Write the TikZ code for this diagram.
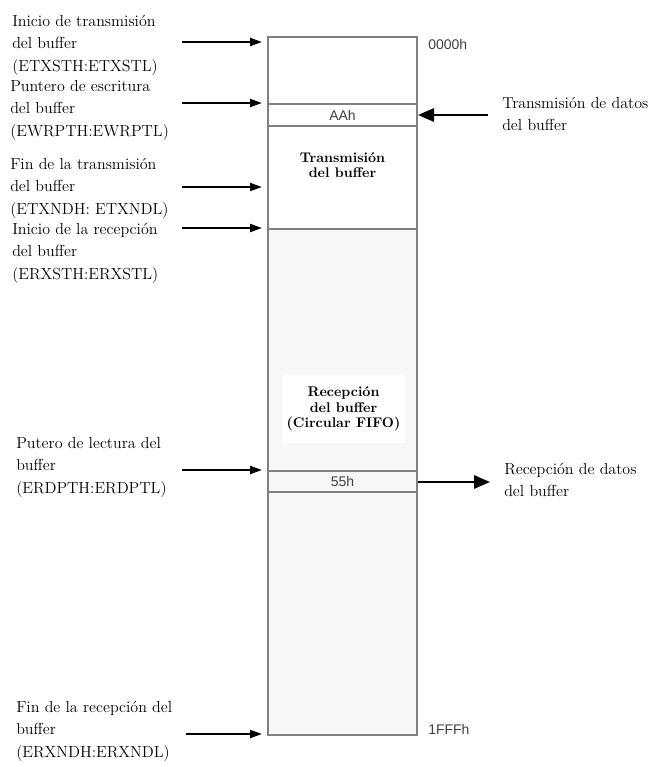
\documentclass[tikz,border=0pt]{standalone}
\usepackage{fontspec}
\newfontfamily\hexfont{Liberation Sans}
\usetikzlibrary{arrows.meta}
\begin{document}
\begin{tikzpicture}
[x=0.75pt,y=-0.75pt,
lbl/.style={anchor=north west,align=left,inner sep=0pt,font=\fontsize{12}{16.8}\selectfont},
hex/.style={inner sep=0pt,text=black!75,font=\hexfont\fontsize{10.5}{12}\selectfont},
zone/.style={inner sep=1pt,align=center,font=\bfseries\fontsize{10.5}{11.5}\selectfont},
ptr/.style={-{Triangle[length=9pt,width=6pt]},line width=1.5pt},
big/.style={-{Triangle[length=12pt,width=10pt]},line width=1.5pt},
wall/.style={draw=black!50,line width=1.1pt}]
\useasboundingbox (0,0) rectangle (658,767);
% memoria del buffer
\fill[black!3] (268,229) rectangle (417,735);
\draw[wall] (268,37) rectangle (417,735);
\foreach \y in {104,126,229,471,492}
\draw[wall] (268,\y) -- (417,\y);
\node[hex,anchor=west] (top) at (428,44) {0000h};
\node[hex] (aa) at (342.5,115) {AAh};
\node[hex] (ff) at (342.5,481.5) {55h};
\node[hex,anchor=west] (bot) at (428,729) {1FFFh};
\node[zone] (tx) at (342.5,165) {Transmisión\\del buffer};
\node[zone,fill=white,minimum width=92pt,minimum height=51pt] (rx) at (343.5,409) {Recepción\\del buffer\\(Circular FIFO)};
% punteros
\node[lbl] (txst) at (12,15) {Inicio de transmisión\\del buffer\\(ETXSTH:ETXSTL)};
\node[lbl] (ewrpt) at (10,80) {Puntero de escritura\\del buffer\\(EWRPTH:EWRPTL)};
\node[lbl] (txnd) at (10,158) {Fin de la transmisión\\del buffer\\(ETXNDH: ETXNDL)};
\node[lbl] (rxst) at (12,223) {Inicio de la recepción\\del buffer\\(ERXSTH:ERXSTL)};
\node[lbl] (erdpt) at (16,437) {Putero de lectura del\\buffer\\(ERDPTH:ERDPTL)};
\node[lbl] (rxnd) at (16,701) {Fin de la recepción del\\buffer\\(ERXNDH:ERXNDL)};
\node[lbl] (txd) at (502,97) {Transmisión de datos\\del buffer};
\node[lbl] (rxd) at (504,463) {Recepción de datos\\del buffer};
\coordinate (s1) at (182,42); \coordinate (e1) at (262,42);
\coordinate (s2) at (182,103); \coordinate (e2) at (262,103);
\coordinate (s3) at (182,187); \coordinate (e3) at (262,187);
\coordinate (s4) at (182,228); \coordinate (e4) at (262,228);
\coordinate (s5) at (182,470); \coordinate (e5) at (262,470);
\coordinate (s6) at (186,734); \coordinate (e6) at (262,734);
\coordinate (w1) at (488,115); \coordinate (w2) at (418,115);
\coordinate (r1) at (418,482); \coordinate (r2) at (490,482);
\foreach \from/\to in {s1/e1,s2/e2,s3/e3,s4/e4,s5/e5,s6/e6}
\draw[ptr] (\from) -- (\to);
\foreach \from/\to in {w1/w2,r1/r2}
\draw[big] (\from) -- (\to);
\end{tikzpicture}
\end{document}
